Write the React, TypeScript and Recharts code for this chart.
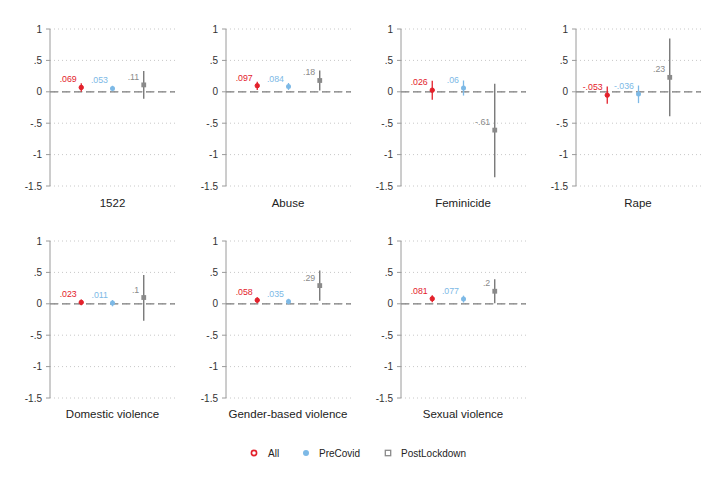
import React from "react";
import { ComposedChart, Scatter, ErrorBar, XAxis, YAxis, CartesianGrid, ReferenceLine } from "recharts";

const categories = ["1522", "Abuse", "Feminicide", "Rape", "Domestic violence", "Gender-based violence", "Sexual violence"];
const seriesNames = ["All", "PreCovid", "PostLockdown"];

const allEst = [0.069, 0.097, 0.026, -0.053, 0.023, 0.058, 0.081];
const allLo = [0.001, 0.03, -0.125, -0.19, -0.025, 0.01, 0.025];
const allHi = [0.137, 0.162, 0.176, 0.085, 0.07, 0.105, 0.136];

const preEst = [0.053, 0.084, 0.06, -0.036, 0.011, 0.035, 0.077];
const preLo = [0.01, 0.03, -0.06, -0.18, -0.04, -0.01, 0.02];
const preHi = [0.096, 0.14, 0.18, 0.1, 0.06, 0.08, 0.13];

const postEst = [0.11, 0.18, -0.61, 0.23, 0.1, 0.29, 0.2];
const postLo = [-0.11, 0.02, -1.36, -0.39, -0.27, 0.05, 0.01];
const postHi = [0.33, 0.34, 0.13, 0.85, 0.46, 0.53, 0.39];

const yTicks = [1, 0.5, 0, -0.5, -1, -1.5];

const RED = "#e3212b";
const BLUE = "#7db9e6";
const GRAY = "#8a8a8a";
const FONT = "'Liberation Sans', Arial, Helvetica, sans-serif";

const fmtTick = (v: number) => {
  const s = String(v);
  return s.replace(/^(-?)0\./, "$1.");
};
const fmtLabel = (v: number) => {
  let s = v.toPrecision(2);
  if (s.indexOf(".") >= 0) s = s.replace(/0+$/, "").replace(/\.$/, "");
  return s.replace(/^(-?)0\./, "$1.");
};

const makeShape = (kind: number, color: string) => (props: any) => {
  const { cx, cy, payload } = props;
  let marker;
  if (kind === 0) marker = <circle cx={cx} cy={cy} r={2.2} fill={color} stroke={color} strokeWidth={1} />;
  else if (kind === 1) marker = <circle cx={cx} cy={cy} r={2.5} fill={color} />;
  else marker = <rect x={cx - 2.4} y={cy - 2.4} width={4.8} height={4.8} fill={color} />;
  return (
    <g>
      {marker}
      <text x={cx - 4.5} y={cy - 5} textAnchor="end" fontSize={8.8} fill={color} fontFamily={FONT}>
        {payload.label}
      </text>
    </g>
  );
};

const colX = [50, 225.5, 400.5, 575.5];
const rowY = [29, 240.7];
const PLOT_W = 125;
const PLOT_H = 157;
const YW = 30;
const MT = 10;

function Panel({ idx }: { idx: number }) {
  const col = idx % 4;
  const row = Math.floor(idx / 4);
  const ax = colX[col];
  const top = rowY[row];
  const mk = (x: number, est: number, lo: number, hi: number) => [
    { x, y: est, err: [est - lo, hi - est], label: fmtLabel(est) },
  ];
  const dAll = mk(1, allEst[idx], allLo[idx], allHi[idx]);
  const dPre = mk(2, preEst[idx], preLo[idx], preHi[idx]);
  const dPost = mk(3, postEst[idx], postLo[idx], postHi[idx]);
  return (
    <>
      <div style={{ position: "absolute", left: ax - YW, top: top - MT }}>
        <ComposedChart width={YW + PLOT_W + 5} height={PLOT_H + MT + 10} margin={{ top: MT, right: 5, left: 0, bottom: 10 }}>
          <CartesianGrid horizontal vertical={false} stroke="#c8c8c8" strokeDasharray="1 3" />
          <XAxis type="number" dataKey="x" domain={[0, 4]} hide />
          <YAxis
            type="number"
            domain={[-1.5, 1]}
            ticks={yTicks}
            width={YW}
            tickFormatter={fmtTick}
            stroke="#9a9a9a"
            tickSize={4}
            tickMargin={4}
            tick={{ fontSize: 10, fill: "#333", fontFamily: FONT }}
            interval={0}
          />
          <ReferenceLine y={0} stroke="#7a7a7a" strokeDasharray="8 4" strokeWidth={1.2} />
          <Scatter data={dAll} dataKey="y" name={seriesNames[0]} fill={RED} isAnimationActive={false} shape={makeShape(0, RED)}>
            <ErrorBar dataKey="err" direction="y" width={0} stroke={RED} strokeWidth={1.3} />
          </Scatter>
          <Scatter data={dPre} dataKey="y" name={seriesNames[1]} fill={BLUE} isAnimationActive={false} shape={makeShape(1, BLUE)}>
            <ErrorBar dataKey="err" direction="y" width={0} stroke={BLUE} strokeWidth={1.3} />
          </Scatter>
          <Scatter data={dPost} dataKey="y" name={seriesNames[2]} fill={GRAY} isAnimationActive={false} shape={makeShape(2, GRAY)}>
            <ErrorBar dataKey="err" direction="y" width={0} stroke="#6e6e6e" strokeWidth={1.3} />
          </Scatter>
        </ComposedChart>
      </div>
      <div
        style={{
          position: "absolute",
          left: ax,
          width: PLOT_W,
          top: row === 0 ? 197 : 408,
          textAlign: "center",
          fontSize: 11.5,
          fontFamily: FONT,
          color: "#222",
          whiteSpace: "nowrap",
        }}
      >
        {categories[idx]}
      </div>
    </>
  );
}

export default function App() {
  const legendX = [254, 306, 388];
  return (
    <div style={{ position: "absolute", left: 0, top: 0, width: 722, height: 481, background: "#fff", overflow: "hidden" }}>
      {categories.map((_, i) => (
        <Panel key={i} idx={i} />
      ))}
      <svg style={{ position: "absolute", left: 0, top: 0 }} width={722} height={481}>
        <circle cx={legendX[0]} cy={453} r={2.6} fill="none" stroke={RED} strokeWidth={1.6} />
        <text x={legendX[0] + 14} y={456.5} fontSize={10} fontFamily={FONT} fill="#222">{seriesNames[0]}</text>
        <circle cx={legendX[1]} cy={453} r={3} fill={BLUE} />
        <text x={legendX[1] + 13} y={456.5} fontSize={10} fontFamily={FONT} fill="#222">{seriesNames[1]}</text>
        <rect x={legendX[2] - 2.7} y={450.3} width={5.4} height={5.4} fill="none" stroke={GRAY} strokeWidth={1.3} />
        <text x={legendX[2] + 13} y={456.5} fontSize={10} fontFamily={FONT} fill="#222">{seriesNames[2]}</text>
      </svg>
    </div>
  );
}
